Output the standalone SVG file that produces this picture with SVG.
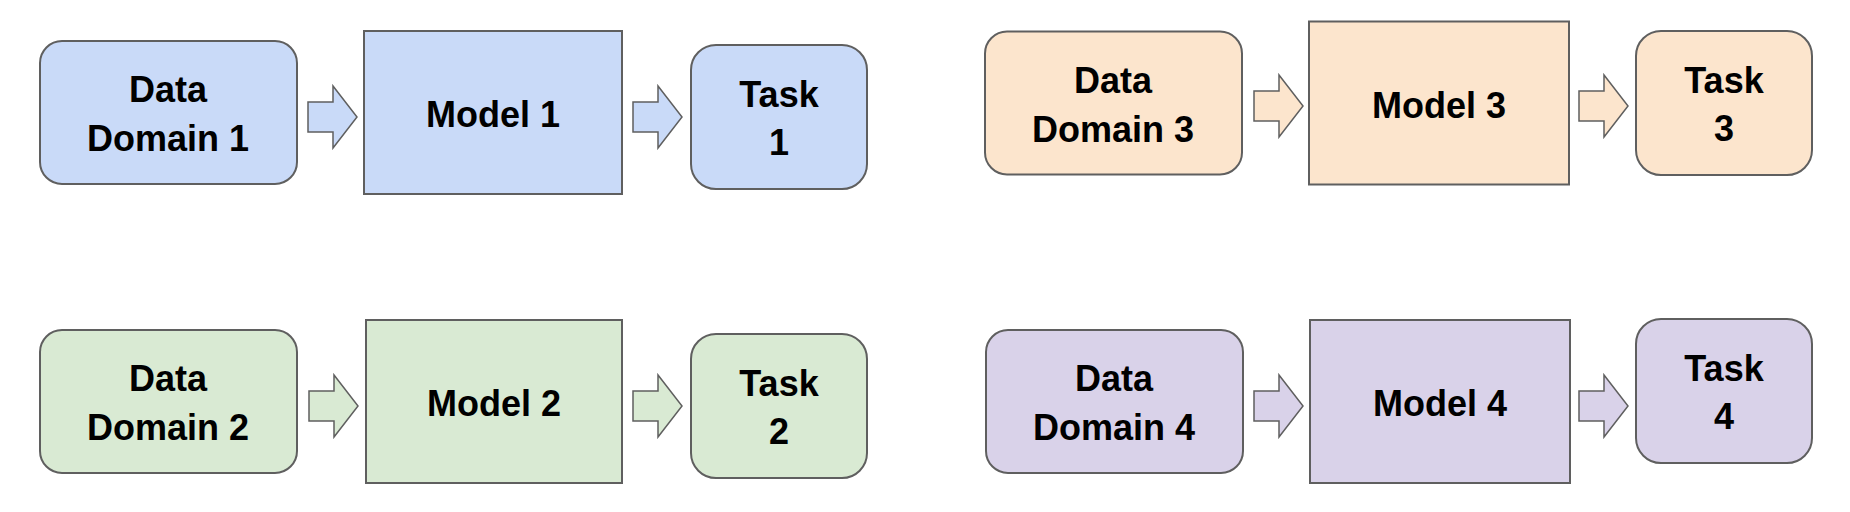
<svg xmlns="http://www.w3.org/2000/svg" width="1850" height="512" viewBox="0 0 1850 512">
<style>
.n{stroke:#5f5f5f;stroke-width:2}
.a{stroke:#5f5f5f;stroke-width:1.5}
text{font-family:"Liberation Sans",Arial,sans-serif;font-weight:bold;font-size:36px;text-anchor:middle;fill:#000}
.b{fill:#c9daf8}.o{fill:#fce5cd}.g{fill:#d9ead3}.p{fill:#d9d2e9}
</style>
<defs>
<path id="arr" d="M0,-15 H25 V-31 L49,0 L25,31 V15 H0 Z"/>
</defs>
<rect width="1850" height="512" fill="#fff"/>
<g id="dd1"><rect class="n b" x="40" y="41" width="257" height="143" rx="22"/><text x="168" y="102">Data</text><text x="168" y="151">Domain 1</text></g>
<g id="m1"><rect class="n b" x="364" y="31" width="258" height="163"/><text x="493" y="127">Model 1</text></g>
<g id="t1"><rect class="n b" x="691" y="45" width="176" height="144" rx="25"/><text x="779" y="107">Task</text><text x="779" y="155">1</text></g>

<g id="dd3"><rect class="n o" x="985" y="31.5" width="257" height="143" rx="22"/><text x="1113" y="92.5">Data</text><text x="1113" y="141.5">Domain 3</text></g>
<g id="m3"><rect class="n o" x="1309" y="21.5" width="260" height="163"/><text x="1439" y="117.5">Model 3</text></g>
<g id="t3"><rect class="n o" x="1636" y="31" width="176" height="144" rx="25"/><text x="1724" y="93">Task</text><text x="1724" y="141">3</text></g>

<g id="dd2"><rect class="n g" x="40" y="330" width="257" height="143" rx="22"/><text x="168" y="391">Data</text><text x="168" y="440">Domain 2</text></g>
<g id="m2"><rect class="n g" x="366" y="320" width="256" height="163"/><text x="494" y="416">Model 2</text></g>
<g id="t2"><rect class="n g" x="691" y="334" width="176" height="144" rx="25"/><text x="779" y="396">Task</text><text x="779" y="444">2</text></g>

<g id="dd4"><rect class="n p" x="986" y="330" width="257" height="143" rx="22"/><text x="1114" y="391">Data</text><text x="1114" y="440">Domain 4</text></g>
<g id="m4"><rect class="n p" x="1310" y="320" width="260" height="163"/><text x="1440" y="416">Model 4</text></g>
<g id="t4"><rect class="n p" x="1636" y="319" width="176" height="144" rx="25"/><text x="1724" y="381">Task</text><text x="1724" y="429">4</text></g>

<g id="connectors">
<use href="#arr" class="a b" x="308" y="117"/>
<use href="#arr" class="a b" x="633" y="117"/>
<use href="#arr" class="a o" x="1254" y="106"/>
<use href="#arr" class="a o" x="1579" y="106"/>
<use href="#arr" class="a g" x="309" y="406"/>
<use href="#arr" class="a g" x="633" y="406"/>
<use href="#arr" class="a p" x="1254" y="406"/>
<use href="#arr" class="a p" x="1579" y="406"/>
</g>
</svg>
